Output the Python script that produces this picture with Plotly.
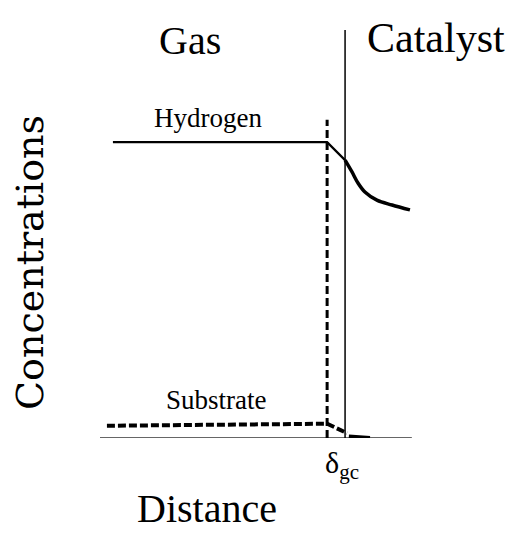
import plotly.graph_objects as go

# concentration profiles across the gas / catalyst interface (arbitrary units)
h2_gas_x = [0.41, 7.21, 7.78]
h2_gas_y = [7.25, 7.25, 6.81]
h2_cat_x = [7.78, 8.00, 8.19, 8.41, 8.79, 9.27, 9.84]
h2_cat_y = [6.81, 6.52, 6.25, 6.03, 5.83, 5.71, 5.59]

sub_x = [0.22, 3.65, 7.21, 7.84]
sub_y = [0.30, 0.32, 0.35, 0.12]
sub_tail_x = [7.9, 8.57]
sub_tail_y = [0.04, 0.0]

delta_gc = 7.21      # edge of gas film
interface = 7.78     # gas / catalyst boundary
film_top = 7.8
x_end = 9.9

serif = "Liberation Serif, Times New Roman, serif"

fig = go.Figure()

# axis baseline
fig.add_trace(go.Scatter(x=[0, x_end], y=[0, 0], mode="lines",
                         line=dict(color="#333", width=1.5)))
# interface line
fig.add_trace(go.Scatter(x=[interface, interface], y=[0, 10], mode="lines",
                         line=dict(color="black", width=1.5)))
# film boundary (dashed)
fig.add_trace(go.Scatter(x=[delta_gc, delta_gc], y=[0, film_top], mode="lines",
                         line=dict(color="black", width=3, dash="8px,4px")))
# hydrogen
fig.add_trace(go.Scatter(x=h2_gas_x, y=h2_gas_y, mode="lines",
                         line=dict(color="black", width=2.2)))
fig.add_trace(go.Scatter(x=h2_cat_x, y=h2_cat_y, mode="lines",
                         line=dict(color="black", width=3.5, shape="spline")))
# substrate
fig.add_trace(go.Scatter(x=sub_x, y=sub_y, mode="lines",
                         line=dict(color="black", width=4, dash="8px,3px")))
fig.add_trace(go.Scatter(x=sub_tail_x, y=sub_tail_y, mode="lines",
                         line=dict(color="black", width=4)))

# the page body adds 8px round the figure, so margins are 8px less
W, H = 517, 543
L, R, T, B = 92, 110, 22, 113

def px(x, y):
    # reference pixel -> paper coords
    return (x - 100) / 315, (438 - y) / 408

def label(x, y, text, size, angle=0, family=serif):
    fx, fy = px(x, y)
    fig.add_annotation(x=fx, y=fy, xref="paper", yref="paper", text=text,
                       showarrow=False, textangle=angle,
                       xanchor="center", yanchor="middle",
                       font=dict(family=family, size=size, color="black"))

label(190, 40, "Gas", 40)
label(436, 38, "Catalyst", 42)
label(208, 118, "Hydrogen", 27)
label(216, 400, "Substrate", 27)
label(30, 263, "Concentrations", 38, -90, "DejaVu Serif, serif")
label(207, 508, "Distance", 40)
label(342, 465, "δ<sub>gc</sub>", 30)

fig.update_layout(
    width=W, height=H,
    margin=dict(l=L, r=R, t=T, b=B),
    paper_bgcolor="white", plot_bgcolor="white",
    showlegend=False,
    xaxis=dict(range=[0, 10], visible=False),
    yaxis=dict(range=[0, 10], visible=False),
)

fig.write_html("out.html")
